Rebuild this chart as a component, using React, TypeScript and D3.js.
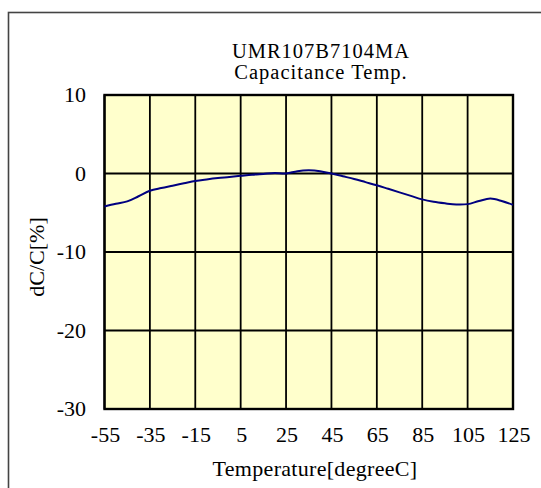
import React from 'react';
import { scaleLinear, line, curveCatmullRom } from 'd3';

// temperature [degC] and capacitance change dC/C [%]
const temps = [-55, -50, -45, -40, -35, -30, -25, -20, -15, -10, -5, 0, 5, 10, 15, 20, 25, 30, 35, 40, 45, 50, 55, 60, 65, 70, 75, 80, 85, 90, 95, 100, 105, 110, 115, 120, 125];
const dcc = [-4.2, -3.85, -3.55, -2.9, -2.2, -1.85, -1.55, -1.25, -0.95, -0.75, -0.58, -0.45, -0.3, -0.15, -0.05, 0.05, 0.0, 0.3, 0.4, 0.3, 0.0, -0.35, -0.7, -1.1, -1.5, -1.95, -2.4, -2.85, -3.3, -3.6, -3.8, -3.95, -3.9, -3.5, -3.2, -3.5, -4.0];

const xTicks = [-55, -35, -15, 5, 25, 45, 65, 85, 105, 125];
const yTicks = [10, 0, -10, -20, -30];

const titleLines = ['UMR107B7104MA', 'Capacitance Temp.'];

const dims = { left: 104.5, right: 513, top: 95, bottom: 409 };
const font = '"Liberation Serif", "Times New Roman", serif';

const App: React.FC = () => {
  const x = scaleLinear().domain([-55, 125]).range([dims.left, dims.right]);
  const y = scaleLinear().domain([-30, 10]).range([dims.bottom, dims.top]);

  const pts = temps.map((t, i) => [t, dcc[i]] as [number, number]);
  const path = line<[number, number]>()
    .x(d => x(d[0]))
    .y(d => y(d[1]))
    .curve(curveCatmullRom.alpha(0.5))(pts);

  return (
    <svg width={541} height={488} style={{ position: 'absolute', left: 0, top: 0 }} fontFamily={font}>
      <rect x={0} y={0} width={541} height={488} fill="#fff" />
      <rect x={8.5} y={12.5} width={540} height={490} fill="none" stroke="#444" strokeWidth={1.6} />

      {titleLines.map((t, i) => (
        <text key={t} x={321} y={58 + i * 21} textAnchor="middle" fontSize={20.5} letterSpacing={1} fill="#000">{t}</text>
      ))}

      <rect x={dims.left} y={dims.top} width={dims.right - dims.left} height={dims.bottom - dims.top} fill="#FFFFCC" />

      {xTicks.map(t => (
        <line key={'gx' + t} x1={x(t)} x2={x(t)} y1={dims.top} y2={dims.bottom} stroke="#000" strokeWidth={1.8} />
      ))}
      {yTicks.map(t => (
        <line key={'gy' + t} x1={dims.left} x2={dims.right} y1={y(t)} y2={y(t)} stroke="#000" strokeWidth={1.8} />
      ))}
      <rect x={dims.left} y={dims.top} width={dims.right - dims.left} height={dims.bottom - dims.top} fill="none" stroke="#000" strokeWidth={2.4} />

      <path d={path ?? ''} fill="none" stroke="#000080" strokeWidth={2} />

      {yTicks.map(t => (
        <text key={'ly' + t} x={86} y={y(t) + 7} textAnchor="end" fontSize={22} fill="#000">{t}</text>
      ))}
      {xTicks.map(t => (
        <text key={'lx' + t} x={x(t) + 1} y={442} textAnchor="middle" fontSize={22} fill="#000">{t}</text>
      ))}

      <text x={315} y={476} textAnchor="middle" fontSize={22} letterSpacing={0.3} fill="#000">Temperature[degreeC]</text>
      <text transform="translate(44,257) rotate(-90)" textAnchor="middle" fontSize={22} fill="#000">dC/C[%]</text>
    </svg>
  );
};

export default App;
